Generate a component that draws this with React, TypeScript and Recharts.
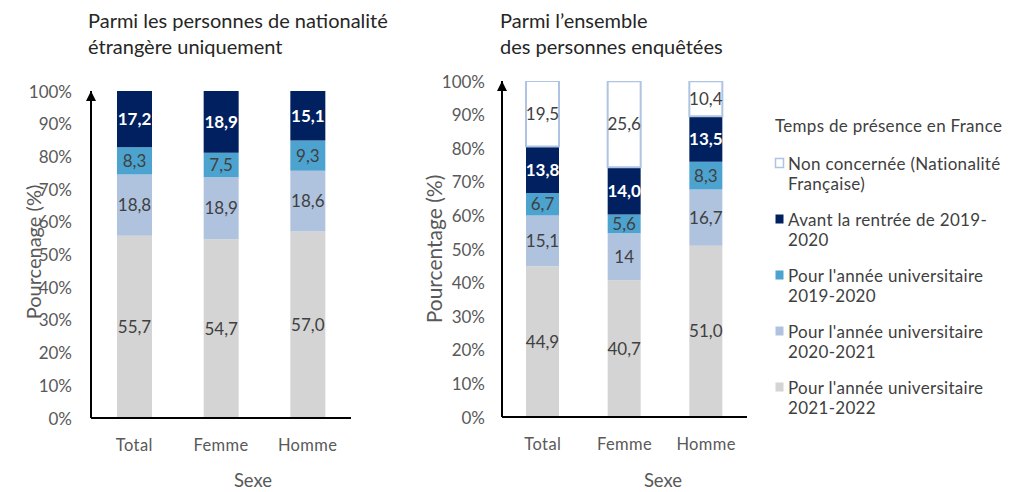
import React from "react";
import { BarChart, Bar, XAxis, YAxis, LabelList } from "recharts";

const categories = ["Total", "Femme", "Homme"];
const yTicks = [0, 10, 20, 30, 40, 50, 60, 70, 80, 90, 100];

// Left chart: foreign nationals only
const leftAn2122 = [55.7, 54.7, 57.0];
const leftAn2021 = [18.8, 18.9, 18.6];
const leftAn1920 = [8.3, 7.5, 9.3];
const leftAvant = [17.2, 18.9, 15.1];

// Right chart: all respondents
const rightAn2122 = [44.9, 40.7, 51.0];
const rightAn2021 = [15.1, 14, 16.7];
const rightAn1920 = [6.7, 5.6, 8.3];
const rightAvant = [13.8, 14.0, 13.5];
const rightNon = [19.5, 25.6, 10.4];

const legendTitle = "Temps de présence en France";
const legendItems = [
  { lines: ["Non concernée (Nationalité", "Française)"], fill: "#FFFFFF", stroke: "#AFC3E2" },
  { lines: ["Avant la rentrée de 2019-", "2020"], fill: "#00205F", stroke: "none" },
  { lines: ["Pour l'année universitaire", "2019-2020"], fill: "#4DA3CF", stroke: "none" },
  { lines: ["Pour l'année universitaire", "2020-2021"], fill: "#AFC3DF", stroke: "none" },
  { lines: ["Pour l'année universitaire", "2021-2022"], fill: "#D4D4D4", stroke: "none" },
];

const C_NAVY = "#00205F";
const C_MID = "#4DA3CF";
const C_LIGHT = "#AFC3DF";
const C_GRAY = "#D4D4D4";
const C_NON_STROKE = "#AFC3E2";

const FONT = "Lato, 'Open Sans', sans-serif";
const TXT = "#595959";

const leftData = categories.map((c, i) => ({
  cat: c,
  a2122: leftAn2122[i],
  a2021: leftAn2021[i],
  a1920: leftAn1920[i],
  avant: leftAvant[i],
}));

const rightData = categories.map((c, i) => ({
  cat: c,
  a2122: rightAn2122[i],
  a2021: rightAn2021[i],
  a1920: rightAn1920[i],
  avant: rightAvant[i],
  non: rightNon[i],
}));

const fmt1 = (v: any) => Number(v).toFixed(1).replace(".", ",");
const fmtCompact = (v: any) =>
  Number.isInteger(Number(v)) ? String(v) : fmt1(v);

const XTick = (props: any) => {
  const { x, y, payload } = props;
  return (
    <text
      x={x}
      y={y + 27}
      textAnchor="middle"
      dominantBaseline="central"
      fill={TXT}
      fontSize={16.5}
      letterSpacing={0.4}
      fontFamily={FONT}
    >
      {payload.value}
    </text>
  );
};

const makeYTick = (gap: number) => (props: any) => {
  const { x, y, payload } = props;
  return (
    <text
      x={x - gap}
      y={y}
      textAnchor="end"
      dominantBaseline="central"
      fill={TXT}
      fontSize={17}
      fontFamily={FONT}
    >
      {`${payload.value}%`}
    </text>
  );
};

const labelStyle = { fontSize: 17, fontFamily: FONT };

function StackedChart(props: {
  data: any[];
  width: number;
  height: number;
  yAxisWidth: number;
  marginTop: number;
  marginRight: number;
  xAxisHeight: number;
  barSize: number;
  withNon: boolean;
  tickGap: number;
  compactLight: boolean;
}) {
  const p = props;
  return (
    <BarChart
      width={p.width}
      height={p.height}
      data={p.data}
      margin={{ top: p.marginTop, right: p.marginRight, left: 0, bottom: 0 }}
      barSize={p.barSize}
    >
      <XAxis
        dataKey="cat"
        height={p.xAxisHeight}
        tickLine={false}
        tickSize={0}
        tickMargin={0}
        axisLine={{ stroke: "#000", strokeWidth: 2 }}
        tick={<XTick />}
        interval={0}
      />
      <YAxis
        width={p.yAxisWidth}
        domain={[0, 100]}
        ticks={yTicks}
        tickLine={false}
        tickSize={0}
        tickMargin={0}
        allowDataOverflow
        axisLine={{
          stroke: "#000",
          strokeWidth: 2,
          markerStart: "url(#arrowHead)",
        }}
        tick={makeYTick(p.tickGap)}
        interval={0}
      />
      <Bar dataKey="a2122" stackId="s" fill={C_GRAY} isAnimationActive={false}>
        <LabelList
          dataKey="a2122"
          position="center"
          formatter={fmt1}
          fill="#404040"
          style={labelStyle}
        />
      </Bar>
      <Bar dataKey="a2021" stackId="s" fill={C_LIGHT} isAnimationActive={false}>
        <LabelList
          dataKey="a2021"
          position="center"
          formatter={p.compactLight ? fmtCompact : fmt1}
          fill="#404040"
          style={labelStyle}
        />
      </Bar>
      <Bar dataKey="a1920" stackId="s" fill={C_MID} isAnimationActive={false}>
        <LabelList
          dataKey="a1920"
          position="center"
          formatter={fmt1}
          fill="#404040"
          style={labelStyle}
        />
      </Bar>
      <Bar dataKey="avant" stackId="s" fill={C_NAVY} isAnimationActive={false}>
        <LabelList
          dataKey="avant"
          position="center"
          formatter={fmt1}
          fill="#FFFFFF"
          style={{ ...labelStyle, fontWeight: 700 }}
        />
      </Bar>
      {p.withNon ? (
        <Bar
          dataKey="non"
          stackId="s"
          fill="#FFFFFF"
          stroke={C_NON_STROKE}
          strokeWidth={2}
          isAnimationActive={false}
        >
          <LabelList
            dataKey="non"
            position="center"
            formatter={fmt1}
            fill="#404040"
            style={labelStyle}
          />
        </Bar>
      ) : null}
    </BarChart>
  );
}

export default function App() {
  return (
    <div
      style={{
        position: "absolute",
        left: 0,
        top: 0,
        width: 1009,
        height: 492,
        background: "#fff",
        fontFamily: FONT,
        overflow: "hidden",
      }}
    >
      <svg width={0} height={0} style={{ position: "absolute" }}>
        <defs>
          <marker
            id="arrowHead"
            viewBox="0 0 10 10"
            refX={10}
            refY={5}
            markerWidth={12}
            markerHeight={10}
            markerUnits="userSpaceOnUse"
            orient="auto-start-reverse"
          >
            <path d="M0,0 L10,5 L0,10 z" fill="#000" />
          </marker>
        </defs>
      </svg>

      <div style={{ position: "absolute", left: 0, top: 0 }}>
        <StackedChart
          data={leftData}
          width={380}
          height={492}
          yAxisWidth={91}
          marginTop={91}
          marginRight={29}
          xAxisHeight={74}
          barSize={35}
          withNon={false}
          tickGap={19}
          compactLight={false}
        />
      </div>
      <div style={{ position: "absolute", left: 420, top: 0 }}>
        <StackedChart
          data={rightData}
          width={340}
          height={492}
          yAxisWidth={82}
          marginTop={81}
          marginRight={13}
          xAxisHeight={75}
          barSize={33}
          withNon={true}
          tickGap={17}
          compactLight={true}
        />
      </div>

      <svg
        width={1009}
        height={492}
        style={{ position: "absolute", left: 0, top: 0, pointerEvents: "none" }}
      >
        <g fontFamily={FONT} fill="#262626" fontSize={20}>
          <text x={88} y={20} dominantBaseline="central">
            Parmi les personnes de nationalité
          </text>
          <text x={88} y={46} dominantBaseline="central">
            étrangère uniquement
          </text>
          <text x={500} y={20} dominantBaseline="central">
            Parmi l’ensemble
          </text>
          <text x={500} y={46} dominantBaseline="central">
            des personnes enquêtées
          </text>
        </g>
        <g fontFamily={FONT} fill={TXT}>
          <text x={253} y={480} fontSize={18.5} textAnchor="middle" dominantBaseline="central">
            Sexe
          </text>
          <text x={663} y={480} fontSize={18.5} textAnchor="middle" dominantBaseline="central">
            Sexe
          </text>
          <text
            transform="translate(33,252) rotate(-90)"
            fontSize={20}
            textAnchor="middle"
            dominantBaseline="central"
          >
            Pourcenage (%)
          </text>
          <text
            transform="translate(433,249) rotate(-90)"
            fontSize={21}
            textAnchor="middle"
            dominantBaseline="central"
          >
            Pourcentage (%)
          </text>
        </g>
        <g fontFamily={FONT} fill="#404040" fontSize={17} letterSpacing={0.3}>
          <text x={775} y={125} dominantBaseline="central">
            {legendTitle}
          </text>
          {legendItems.map((it, i) => {
            const y0 = 163 + i * 56;
            return (
              <g key={i}>
                <rect
                  x={775.5}
                  y={y0 - 4.5}
                  width={8}
                  height={9}
                  fill={it.fill}
                  stroke={it.stroke}
                  strokeWidth={it.stroke === "none" ? 0 : 1.5}
                />
                {it.lines.map((ln, j) => (
                  <text key={j} x={788} y={y0 + j * 20} dominantBaseline="central">
                    {ln}
                  </text>
                ))}
              </g>
            );
          })}
        </g>
      </svg>
    </div>
  );
}
